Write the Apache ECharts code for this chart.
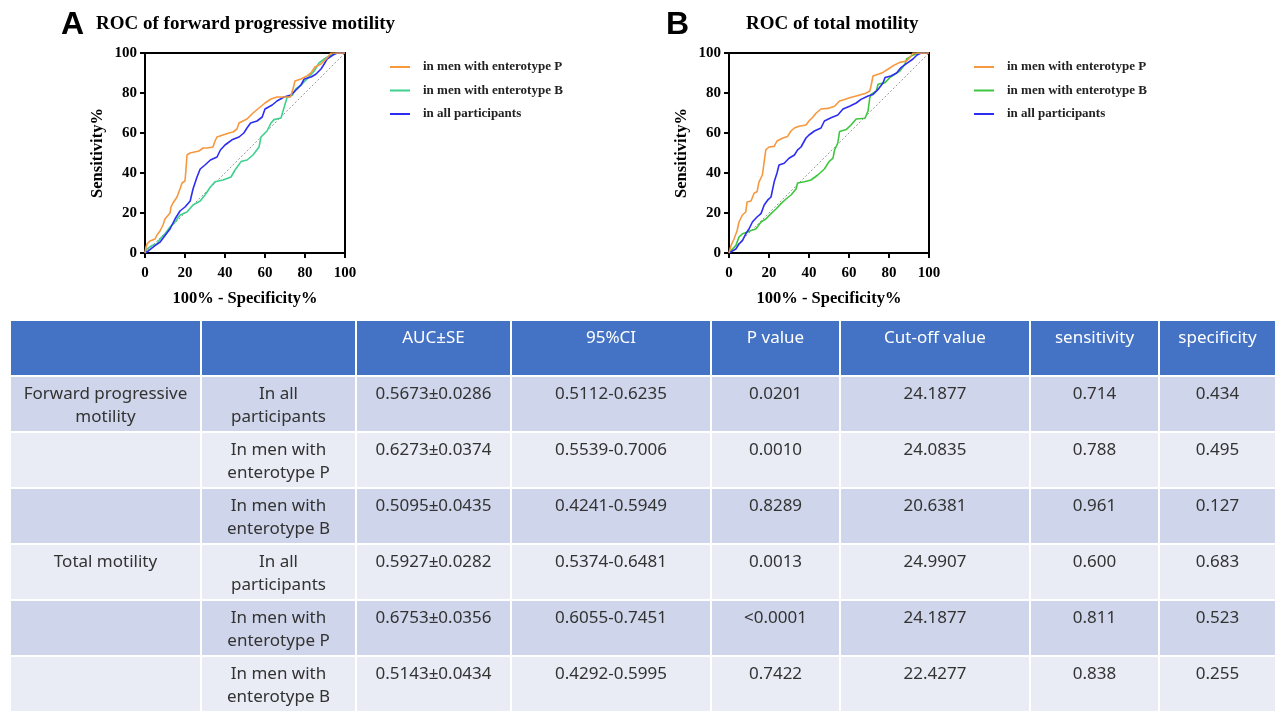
<!DOCTYPE html>
<html><head><meta charset="utf-8">
<script src="https://cdn.jsdelivr.net/npm/echarts@6/dist/echarts.min.js"></script>
<style>html,body{margin:0;padding:0;background:#fff}#c{width:1282px;height:712px}</style>
</head><body><div id="c"></div>
<script>
// ---------- ROC data (x = 100% - Specificity%, y = Sensitivity%) ----------
const seriesNames = ['in men with enterotype P', 'in men with enterotype B', 'in all participants'];
const axisTicks = [0, 20, 40, 60, 80, 100];
const fpmP = [[0,0],[0.5,3],[1,4.5],[2.5,6],[5,7],[6,9],[7.5,11],[9,14],[10,17],[12.5,20],[13,23],[14,25],[16,28],[17.5,32],[18.5,35],[20,36],[20.5,42],[21,49],[22.5,50],[27,51],[29,52.5],[31,52.5],[34,53],[35,56],[36,58],[39,59],[42,60],[44,60.5],[46,62],[47,65],[51,67],[54,70],[57.6,73],[60,75],[63,77],[64,78],[66,78],[72.7,78],[74,82],[75,86],[78,87],[81,88.5],[83,90],[85,93],[88,94.5],[91,97.5],[93,100],[100,100]];
const fpmB = [[0,0],[1,2],[3.4,3.7],[5.9,4.5],[7.5,7],[10,9.6],[12.5,13],[15,15.5],[17.6,19],[21,20.5],[24,24],[27.6,26],[30,29],[32.7,33],[35,35.6],[39,36.5],[43,38],[45,41.5],[48,45.7],[51,46.5],[54,49],[57,53],[58,58],[61,61],[63,65],[64.5,66.7],[68,67.5],[69.5,72.6],[71,77.6],[73.7,79],[75.4,82],[78,84],[81,87],[84.6,91],[87,95],[89.6,97],[92,98.5],[96,100],[100,100]];
const fpmAll = [[0,0],[1.7,1],[3.4,2.4],[5,3.7],[7.5,5.4],[10,8.7],[12.5,12],[15,17],[17.5,21],[20,23],[22.6,26],[24,32],[26,38],[27.6,42],[30,44],[32.7,46.5],[36,48],[37.7,51.5],[40,54],[43.5,56.6],[47,58],[49.4,60],[51,62.5],[52.8,65],[56,66],[58.6,68],[60,72],[63.6,74],[66,76],[69.5,78],[73,79],[75,81],[78,84],[79.6,87],[83,88],[85.4,89.4],[88,92],[89.6,94.5],[91,97],[94,99],[96,100],[100,100]];
const tmP = [[0,0],[1,3.7],[2.5,7],[4,11],[5,15.5],[6.7,19],[8.4,20.5],[9,25.5],[11,26],[12.6,30],[14,30.6],[15,35.6],[16.7,39],[17.6,45.7],[18.4,51.6],[20,53],[22.6,53.3],[24,56],[27,57.5],[29.3,58.3],[31,61],[32.7,62.5],[35,63.4],[38.5,64],[40,66],[42,68],[43.6,70],[46,72],[49.4,72.3],[52.8,73.4],[55.3,76],[57.8,76.8],[60.3,77.6],[63.6,78.5],[68,79.7],[70.4,81],[71,83.5],[72,88.5],[74.5,89.4],[77,90.3],[79.6,92],[82,93.6],[85.4,95.3],[88.8,96],[90.5,97.8],[92,100],[100,100]];
const tmB = [[0,0],[1.7,2],[3.4,3.7],[5,8],[6.7,9.6],[9,10.4],[11,11.3],[13.4,12],[16,15.5],[18.4,17],[21,19.7],[23.5,22],[26,24.7],[28.5,27],[31,29],[33.5,32],[34.3,35],[37.7,35.6],[41,36.5],[44.4,39],[47.7,42],[50,45.7],[52,47.4],[52.8,51.6],[54.4,55],[55.3,60.8],[58.6,61.7],[61,64],[63.6,67],[68,67.4],[69.5,71],[70.4,77.6],[71,79.3],[73.7,81],[74.5,84.4],[78,85.2],[80.4,87.7],[83,89.4],[85.4,91],[88,94.5],[88.8,97],[91.3,98.6],[94.6,100],[100,100]];
const tmAll = [[0,0],[1.7,1],[3.4,2],[5,4.5],[6.7,6.2],[8.4,9.6],[10,12],[11.7,15.5],[14,18],[16,19.7],[17.6,24],[19.3,26.4],[21,28],[22.6,35.6],[24,40],[25,44],[27.6,44.9],[30,47.4],[32.7,49],[34.3,51.6],[36,53],[38.5,57.5],[40,59],[42.7,61],[46,62.5],[47.7,66],[51,67.6],[54.4,69],[57,72],[60.3,73.4],[63.6,75],[66,76.8],[69.5,78.5],[72,79.3],[74.5,81.8],[77,85],[78,87.7],[81,88.5],[83.8,90],[86,92.7],[89.6,95.3],[92,97],[94,99],[96,100],[100,100]];
const reference = [[0,0],[100,100]];

// ---------- Table data ----------
const headers = ['', '', 'AUC±SE', '95%CI', 'P value', 'Cut-off value', 'sensitivity', 'specificity'];
const groups = ['Forward progressive\nmotility', '', '', 'Total motility', '', ''];
const subgroups = ['In all\nparticipants', 'In men with\nenterotype P', 'In men with\nenterotype B', 'In all\nparticipants', 'In men with\nenterotype P', 'In men with\nenterotype B'];
const aucSE = ['0.5673±0.0286', '0.6273±0.0374', '0.5095±0.0435', '0.5927±0.0282', '0.6753±0.0356', '0.5143±0.0434'];
const ci95 = ['0.5112-0.6235', '0.5539-0.7006', '0.4241-0.5949', '0.5374-0.6481', '0.6055-0.7451', '0.4292-0.5995'];
const pValues = ['0.0201', '0.0010', '0.8289', '0.0013', '<0.0001', '0.7422'];
const cutoffs = ['24.1877', '24.0835', '20.6381', '24.9907', '24.1877', '22.4277'];
const sensitivity = ['0.714', '0.788', '0.961', '0.600', '0.811', '0.838'];
const specificity = ['0.434', '0.495', '0.127', '0.683', '0.523', '0.255'];

// ---------- layout / style ----------
const colEdges = [0, 191, 346, 501, 701, 830, 1020, 1149, 1266];
const C_ORANGE = '#f7983f', C_BLUE = '#2d2df2', C_TEAL = '#3fd08f', C_GREEN = '#3fc63f';
const SERIF = 'Liberation Serif';
const TABLE_FONT = '"Noto Sans", "Noto Sans CJK SC", sans-serif';

const cells = [];
headers.forEach((h, c) => cells.push({c: c, r: 0, text: h}));
for (let i = 0; i < 6; i++) {
  const row = [groups[i], subgroups[i], aucSE[i], ci95[i], pValues[i], cutoffs[i], sensitivity[i], specificity[i]];
  row.forEach((t, c) => cells.push({c: c, r: i + 1, text: t}));
}

function rocAxes(gridIndex) {
  const common = {
    gridIndex: gridIndex, type: 'value', min: 0, max: 100, interval: 20,
    axisLine: {show: true, lineStyle: {color: '#000', width: 2}},
    axisTick: {show: true, length: 5, lineStyle: {color: '#000', width: 2}},
    splitLine: {show: false},
    axisLabel: {fontFamily: SERIF, fontWeight: 'bold', fontSize: 15, color: '#000'}
  };
  return {
    x: Object.assign({}, common, {name: '100% - Specificity%', nameLocation: 'middle', nameGap: 37,
      nameTextStyle: {fontFamily: SERIF, fontWeight: 'bold', fontSize: 16.5, color: '#000'},
      axisLabel: Object.assign({}, common.axisLabel, {margin: 13})}),
    y: Object.assign({}, common, {name: 'Sensitivity%', nameLocation: 'middle', nameGap: 39, nameRotate: 90,
      nameTextStyle: {fontFamily: SERIF, fontWeight: 'bold', fontSize: 16.5, color: '#000'},
      axisLabel: Object.assign({}, common.axisLabel, {margin: 8})})
  };
}
const axA = rocAxes(0), axB = rocAxes(1);

function line(name, data, color, idx, z) {
  return {name: name, type: 'line', xAxisIndex: idx, yAxisIndex: idx, data: data, showSymbol: false,
    symbol: 'none', lineStyle: {color: color, width: 1.6}, itemStyle: {color: color}, z: z, animation: false};
}
function legendOf(left, colors) {
  return {
    left: left, top: 60, orient: 'vertical', itemGap: 9.5, itemWidth: 20, itemHeight: 2, icon: 'rect',
    selectedMode: false, padding: 0,
    textStyle: {fontFamily: SERIF, fontWeight: 'bold', fontSize: 13, color: '#222', lineHeight: 14, padding: [0, 0, 0, 8]},
    data: seriesNames.map((n, i) => ({name: n, itemStyle: {color: colors[i]}}))
  };
}

const chart = echarts.init(document.getElementById('c'), null, {renderer: 'canvas'});
chart.setOption({
  backgroundColor: '#fff',
  animation: false,
  title: [
    {text: 'A', left: 61, top: 9, padding: 0, textStyle: {fontFamily: 'Liberation Sans', fontWeight: 'bold', fontSize: 32, color: '#000'}},
    {text: 'ROC of forward progressive motility', left: 96, top: 15, padding: 0, textStyle: {fontFamily: SERIF, fontWeight: 'bold', fontSize: 19, color: '#000'}},
    {text: 'B', left: 666, top: 9, padding: 0, textStyle: {fontFamily: 'Liberation Sans', fontWeight: 'bold', fontSize: 32, color: '#000'}},
    {text: 'ROC of total motility', left: 746, top: 15, padding: 0, textStyle: {fontFamily: SERIF, fontWeight: 'bold', fontSize: 19, color: '#000'}}
  ],
  legend: [legendOf(390, [C_ORANGE, C_TEAL, C_BLUE]), legendOf(974, [C_ORANGE, C_GREEN, C_BLUE])],
  grid: [
    {left: 145, top: 53, width: 200, height: 200, show: true, borderColor: '#000', borderWidth: 2, backgroundColor: 'transparent'},
    {left: 729, top: 53, width: 200, height: 200, show: true, borderColor: '#000', borderWidth: 2, backgroundColor: 'transparent'},
    {left: 10, top: 320, width: 1266, height: 392, show: false}
  ],
  xAxis: [axA.x, axB.x, {gridIndex: 2, type: 'value', min: 0, max: colEdges[colEdges.length - 1], show: false}],
  yAxis: [axA.y, axB.y, {gridIndex: 2, type: 'value', min: 0, max: 7, inverse: true, show: false}],
  series: [
    {type: 'line', xAxisIndex: 0, yAxisIndex: 0, data: reference, symbol: 'none', lineStyle: {color: '#9a9a9a', width: 1, type: [2, 2]}, z: 1, silent: true},
    {type: 'line', xAxisIndex: 1, yAxisIndex: 1, data: reference, symbol: 'none', lineStyle: {color: '#9a9a9a', width: 1, type: [2, 2]}, z: 1, silent: true},
    line(seriesNames[1], fpmB, C_TEAL, 0, 2),
    line(seriesNames[2], fpmAll, C_BLUE, 0, 3),
    line(seriesNames[0], fpmP, C_ORANGE, 0, 4),
    line(seriesNames[1], tmB, C_GREEN, 1, 2),
    line(seriesNames[2], tmAll, C_BLUE, 1, 3),
    line(seriesNames[0], tmP, C_ORANGE, 1, 4),
    {
      type: 'custom', xAxisIndex: 2, yAxisIndex: 2, silent: true, animation: false,
      data: cells.map(d => [d.c, d.r]),
      encode: {x: 0, y: 1},
      renderItem: function (params, api) {
        const cell = cells[params.dataIndex];
        const p0 = api.coord([colEdges[cell.c], cell.r]);
        const p1 = api.coord([colEdges[cell.c + 1], cell.r + 1]);
        const fill = cell.r === 0 ? '#4472c4' : (cell.r % 2 === 1 ? '#cfd5ea' : '#e9ebf5');
        return {
          type: 'group',
          children: [
            {type: 'rect', shape: {x: p0[0] + 1, y: p0[1] + 1, width: p1[0] - p0[0] - 2, height: p1[1] - p0[1] - 2}, style: {fill: fill}},
            {type: 'text', x: (p0[0] + p1[0]) / 2, y: p0[1] + 6.5,
              style: {text: cell.text, align: 'center', verticalAlign: 'top', lineHeight: 23,
                fontFamily: TABLE_FONT, fontSize: 17, fill: cell.r === 0 ? '#ffffff' : '#333333'}}
          ]
        };
      }
    }
  ]
});
</script></body></html>
